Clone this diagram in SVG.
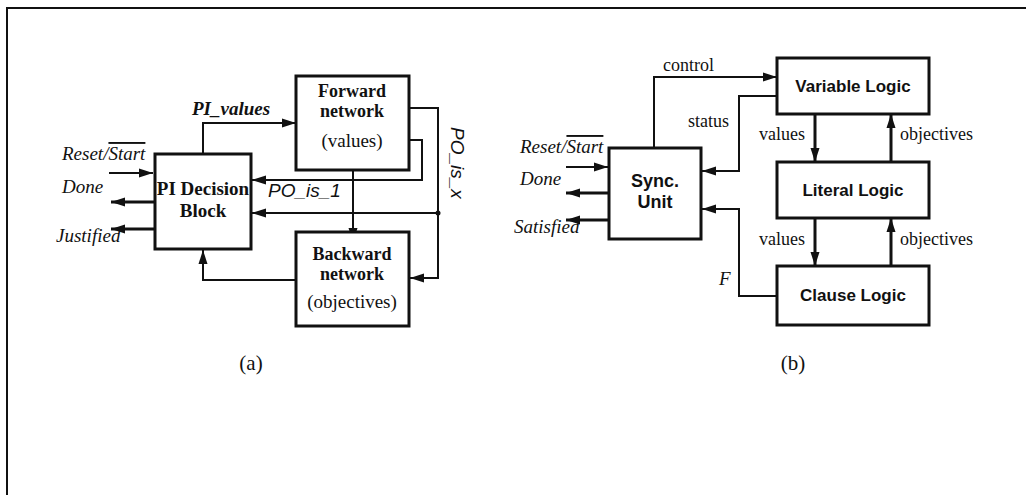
<svg xmlns="http://www.w3.org/2000/svg" width="1026" height="495" viewBox="0 0 1026 495">
<style>
.box{fill:#fff;stroke:#111;stroke-width:3}
.ln{fill:none;stroke:#111;stroke-width:2}
.thk{fill:none;stroke:#111;stroke-width:3}
.serif{font-family:"Liberation Serif","Times New Roman",serif;fill:#111}
.sans{font-family:"Liberation Sans",Arial,sans-serif;fill:#111}
.bold{font-weight:bold}
.it{font-style:italic}
.mid{text-anchor:middle}
.end{text-anchor:end}
.ov{text-decoration:overline}
</style>
<defs>
<marker id="ah" markerUnits="userSpaceOnUse" markerWidth="14" markerHeight="10" refX="14" refY="5" orient="auto">
<path d="M0,0.5 L14,5 L0,9.5 z" fill="#111"/>
</marker>
</defs>
<rect x="7" y="8" width="1030" height="500" fill="none" stroke="#111" stroke-width="2"/>

<g id="connectors">
<path class="ln" d="M203,154 V123 H296" marker-end="url(#ah)" stroke-width="2.5"/>
<path class="ln" d="M109,173 H153" marker-end="url(#ah)"/>
<path class="thk" d="M155,202 H111" marker-end="url(#ah)"/>
<path class="thk" d="M155,229 H111" marker-end="url(#ah)"/>
<path class="ln" d="M409,140 H422 V180 H252" marker-end="url(#ah)"/>
<path class="ln" d="M409,108 H438 V278 H410" marker-end="url(#ah)"/>
<path class="ln" d="M438,213 H252" marker-end="url(#ah)"/>
<circle cx="438" cy="213" r="2.5" fill="#111"/>
<path class="ln" d="M353,153 V242" marker-end="url(#ah)"/>
<path class="ln" d="M296,280 H203 V250" marker-end="url(#ah)"/>

<path class="ln" d="M654,148 V77 H777" marker-end="url(#ah)"/>
<path class="ln" d="M777,96 H739 V171 H702" marker-end="url(#ah)"/>
<path class="ln" d="M777,296 H739 V209 H702" marker-end="url(#ah)"/>
<path class="thk" d="M815,114 V162" marker-end="url(#ah)"/>
<path class="thk" d="M815,218 V266" marker-end="url(#ah)"/>
<path class="thk" d="M891,162 V114" marker-end="url(#ah)"/>
<path class="thk" d="M891,266 V218" marker-end="url(#ah)"/>
<path class="ln" d="M566,167 H608" marker-end="url(#ah)"/>
<path class="thk" d="M609,193 H566" marker-end="url(#ah)"/>
<path class="thk" d="M609,220 H566" marker-end="url(#ah)"/>
</g>

<g id="pi-decision-block">
<rect class="box" x="155" y="154" width="96" height="95"/>
<text class="serif bold mid" x="203" y="195" font-size="19">PI Decision</text>
<text class="serif bold mid" x="203" y="217" font-size="19">Block</text>
</g>
<g id="forward-network">
<rect class="box" x="296" y="76" width="113" height="94"/>
<text class="serif bold mid" x="352" y="97" font-size="18">Forward</text>
<text class="serif bold mid" x="352" y="117" font-size="18">network</text>
<text class="serif mid" x="352" y="147" font-size="19">(values)</text>
</g>
<g id="backward-network">
<rect class="box" x="296" y="232" width="113" height="94"/>
<text class="serif bold mid" x="352" y="260" font-size="18">Backward</text>
<text class="serif bold mid" x="352" y="280" font-size="18">network</text>
<text class="serif mid" x="352" y="308" font-size="19">(objectives)</text>
</g>

<g id="labels-a">
<text class="serif bold it" x="192" y="115" font-size="19">PI_values</text>
<text class="serif it" x="62" y="160" font-size="19">Reset/<tspan class="ov">Start</tspan></text>
<text class="serif it" x="62" y="193" font-size="19">Done</text>
<text class="serif it" x="56" y="242" font-size="19">Justified</text>
<text class="sans it" x="268" y="197" font-size="19">PO_is_1</text>
<text class="sans it" transform="translate(451,127) rotate(90)" font-size="19">PO_is_x</text>
<text class="serif mid" x="251" y="370" font-size="21">(a)</text>
</g>

<g id="sync-unit">
<rect class="box" x="609" y="148" width="92" height="91"/>
<text class="sans bold mid" x="655" y="187" font-size="18">Sync.</text>
<text class="sans bold mid" x="655" y="208" font-size="18">Unit</text>
</g>
<g id="variable-logic">
<rect class="box" x="777" y="58" width="152" height="56"/>
<text class="sans bold mid" x="853" y="92" font-size="17">Variable Logic</text>
</g>
<g id="literal-logic">
<rect class="box" x="777" y="162" width="152" height="56"/>
<text class="sans bold mid" x="853" y="196" font-size="17">Literal Logic</text>
</g>
<g id="clause-logic">
<rect class="box" x="777" y="266" width="152" height="59"/>
<text class="sans bold mid" x="853" y="301" font-size="17">Clause Logic</text>
</g>

<g id="labels-b">
<text class="serif" x="663" y="71" font-size="18">control</text>
<text class="serif" x="688" y="127" font-size="18">status</text>
<text class="serif it" x="719" y="285" font-size="19">F</text>
<text class="serif end" x="805" y="140" font-size="18">values</text>
<text class="serif end" x="805" y="245" font-size="18">values</text>
<text class="serif" x="900" y="140" font-size="18">objectives</text>
<text class="serif" x="900" y="245" font-size="18">objectives</text>
<text class="serif it" x="520" y="153" font-size="19">Reset/<tspan class="ov">Start</tspan></text>
<text class="serif it" x="520" y="185" font-size="19">Done</text>
<text class="serif it" x="514" y="233" font-size="19">Satisfied</text>
<text class="serif mid" x="793" y="370" font-size="21">(b)</text>
</g>
</svg>
